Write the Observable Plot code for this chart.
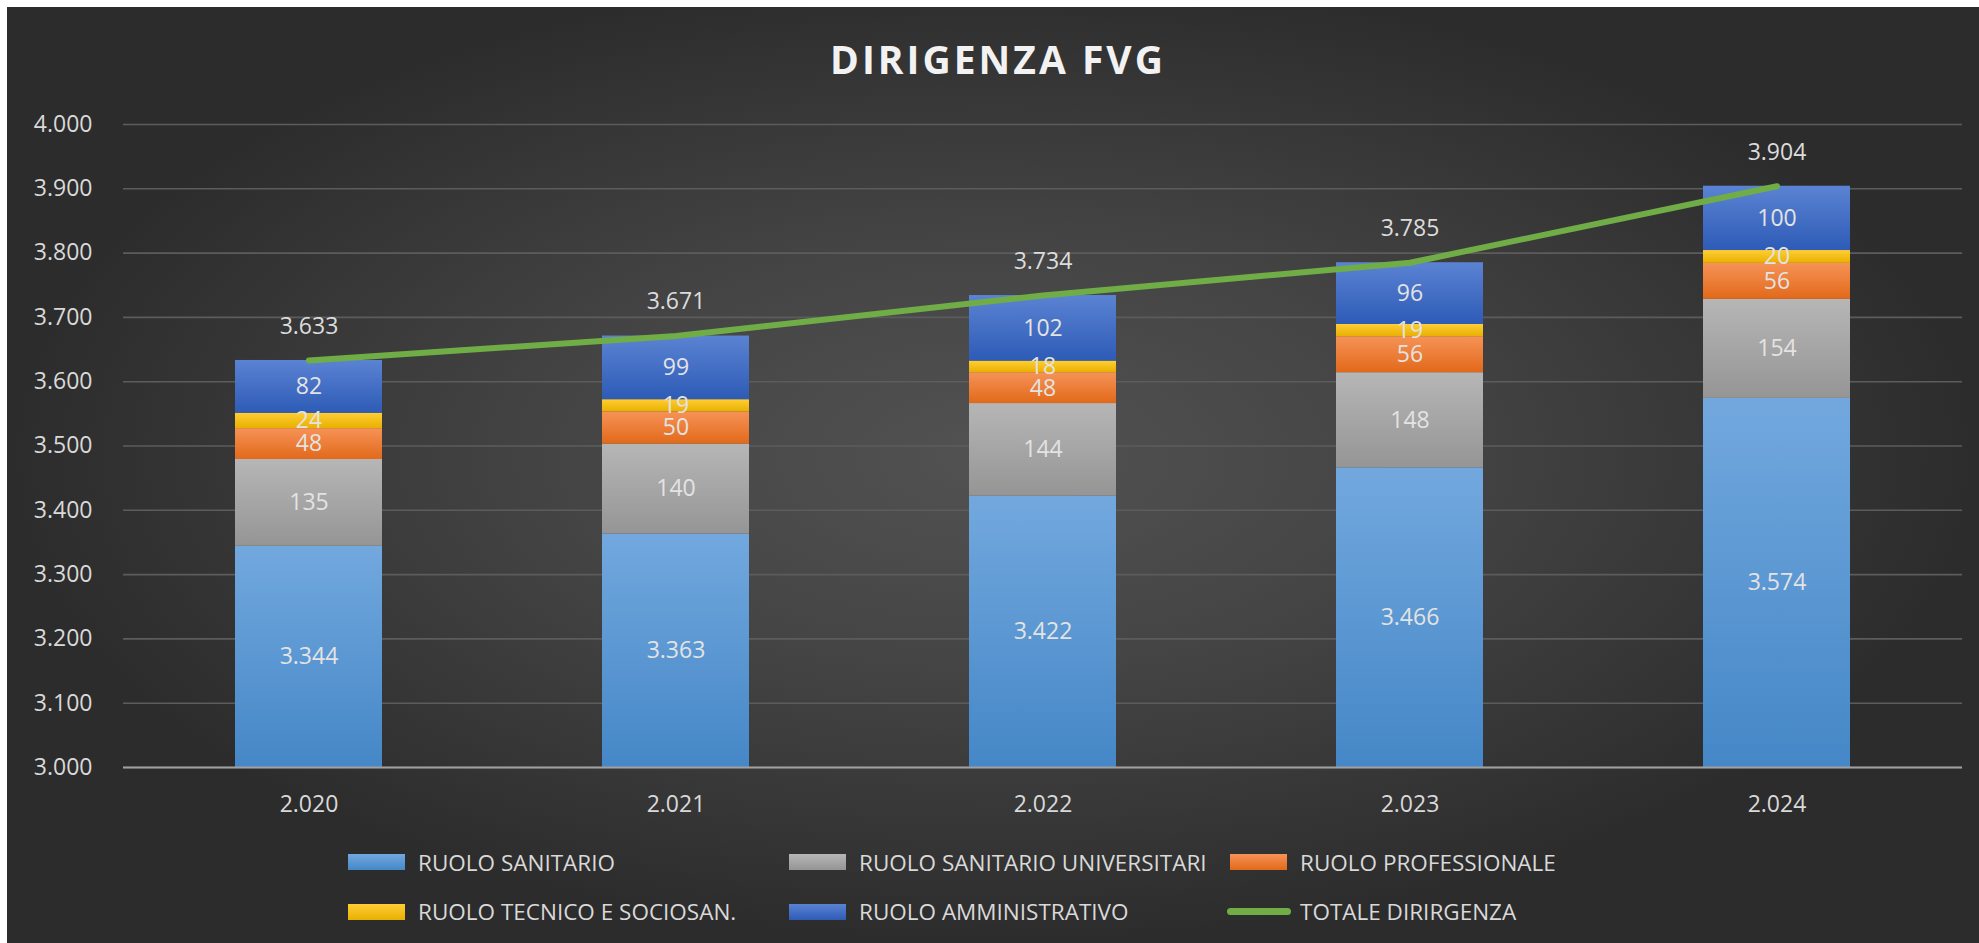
<!DOCTYPE html>
<html>
<head>
<meta charset="utf-8">
<script src="https://cdn.jsdelivr.net/npm/d3@7"></script>
<script src="https://cdn.jsdelivr.net/npm/@observablehq/plot@0.6"></script>
<style>
  html, body { margin: 0; padding: 0; background: #ffffff; }
  body { width: 1979px; height: 943px; position: relative; overflow: hidden; font-family: "Open Sans", sans-serif; }
  #frame {
    position: absolute; left: 7px; top: 7px; width: 1972px; height: 936px;
    background: radial-gradient(ellipse farthest-side at 50% 48%, #525252 0%, #444444 45%, #2c2c2c 100%);
    overflow: hidden;
  }
  #title {
    position: absolute; left: 10px; right: 0; top: 32px; text-align: center;
    font-size: 39px; line-height: 39px; font-weight: 700; letter-spacing: 3px; color: #f2f2f2;
  }
  #chart { position: absolute; left: 0; top: 0; }
  .leg { position: absolute; height: 30px; display: flex; align-items: center; font-size: 22.5px; color: #d9d9d9; white-space: nowrap; }
  .sw { width: 57px; height: 16px; margin-right: 13px; }
  .ln { width: 64px; height: 7px; border-radius: 4px; background: #70ad47; margin-right: 9px; }
</style>
</head>
<body>
<div id="frame">
  <div id="title">DIRIGENZA FVG</div>
  <div id="chart"></div>
  <div id="legend"></div>
</div>
<script>
// ---- data ----
const years = ["2.020", "2.021", "2.022", "2.023", "2.024"];
const sanitario      = [3344, 3363, 3422, 3466, 3574];
const universitari   = [135, 140, 144, 148, 154];
const professionale  = [48, 50, 48, 56, 56];
const tecnico        = [24, 19, 18, 19, 20];
const amministrativo = [82, 99, 102, 96, 100];
const totale         = [3633, 3671, 3734, 3785, 3904];
const seriesNames = ["RUOLO SANITARIO", "RUOLO SANITARIO UNIVERSITARI", "RUOLO PROFESSIONALE", "RUOLO TECNICO E SOCIOSAN.", "RUOLO AMMINISTRATIVO"];
const lineName = "TOTALE DIRIRGENZA";
const yTicks = [3000, 3100, 3200, 3300, 3400, 3500, 3600, 3700, 3800, 3900, 4000];
const yMin = 3000, yMax = 4000;

// ---- styles ----
const gradients = [
  ["#72a8de", "#4587c7"],
  ["#b6b6b6", "#959595"],
  ["#f69357", "#e2691a"],
  ["#ffce36", "#e8b000"],
  ["#5b83d3", "#2d5bb6"]
];

const seriesValues = [sanitario, universitari, professionale, tecnico, amministrativo];

// build stacked table
const rows = [];
years.forEach((yr, i) => {
  let base = 0;
  seriesValues.forEach((vals, s) => {
    const v = vals[i];
    const lo = base, hi = base + v;
    base = hi;
    const vlo = Math.max(lo, yMin);
    rows.push({year: yr, series: s, value: v, y1: vlo, y2: hi, mid: (vlo + hi) / 2});
  });
});
const totRows = years.map((yr, i) => ({year: yr, total: totale[i]}));

const loc = d3.formatLocale({decimal: ",", thousands: ".", grouping: [3], currency: ["€", ""]});
const fmt = loc.format(",d");

const barMarks = seriesNames.map((name, s) =>
  Plot.barY(rows.filter(r => r.series === s), {x: "year", y1: "y1", y2: "y2", fill: `url(#grad${s})`})
);

const chart = Plot.plot({
  width: 1972,
  height: 830,
  marginLeft: 116,
  marginRight: 17,
  marginTop: 117,
  marginBottom: 70,
  style: {background: "transparent", color: "#d9d9d9", fontFamily: "Open Sans", fontSize: "23px", overflow: "visible"},
  x: {domain: years, paddingInner: 0.6, paddingOuter: 0.3, label: null},
  y: {domain: [yMin, yMax], label: null},
  marks: [
    Plot.gridY(yTicks, {stroke: "#5c5c5c", strokeOpacity: 1, strokeWidth: 1.6}),
    ...barMarks,
    Plot.ruleY([yMin], {stroke: "#a0a0a0", strokeWidth: 2}),
    Plot.lineY(totRows, {x: "year", y: "total", stroke: "#70ad47", strokeWidth: 6, strokeLinecap: "round", strokeLinejoin: "round"}),
    Plot.text(rows, {x: "year", y: "mid", text: d => fmt(d.value), fill: "#e3e3e3", fontSize: 23}),
    Plot.text(totRows, {x: "year", y: "total", text: d => fmt(d.total), fill: "#dcdcdc", fontSize: 23, dy: -34}),
    Plot.axisX({tickSize: 0, tickPadding: 28, fontSize: 23, fill: "#d9d9d9"}),
    Plot.axisY(yTicks, {tickSize: 0, tickPadding: 31, tickFormat: fmt, fontSize: 23, fill: "#d9d9d9"})
  ]
});

// gradient defs
const svgSel = d3.select(chart);
const defs = svgSel.insert("defs", ":first-child");
gradients.forEach((g, i) => {
  const lg = defs.append("linearGradient").attr("id", `grad${i}`).attr("x1", 0).attr("y1", 0).attr("x2", 0).attr("y2", 1);
  lg.append("stop").attr("offset", "0%").attr("stop-color", g[0]);
  lg.append("stop").attr("offset", "100%").attr("stop-color", g[1]);
});
document.getElementById("chart").appendChild(chart);

// legend
const legendItems = [
  {label: seriesNames[0], s: 0, left: 341, cy: 855},
  {label: seriesNames[1], s: 1, left: 782, cy: 855},
  {label: seriesNames[2], s: 2, left: 1223, cy: 855},
  {label: seriesNames[3], s: 3, left: 341, cy: 904.5},
  {label: seriesNames[4], s: 4, left: 782, cy: 904.5},
  {label: lineName, s: -1, left: 1220, cy: 904.5}
];
const leg = document.getElementById("legend");
legendItems.forEach(it => {
  const d = document.createElement("div");
  d.className = "leg";
  d.style.left = it.left + "px";
  d.style.top = (it.cy - 15) + "px";
  const sw = document.createElement("div");
  if (it.s >= 0) {
    sw.className = "sw";
    sw.style.background = `linear-gradient(to bottom, ${gradients[it.s][0]}, ${gradients[it.s][1]})`;
  } else {
    sw.className = "ln";
  }
  d.appendChild(sw);
  const t = document.createElement("span");
  t.textContent = it.label;
  d.appendChild(t);
  leg.appendChild(d);
});
</script>
</body>
</html>
